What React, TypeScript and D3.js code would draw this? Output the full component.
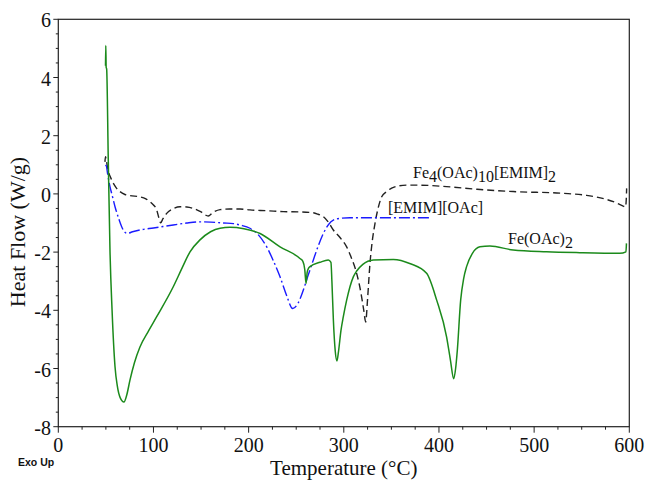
import React from "react";
import * as d3 from "d3";

const xTicks = [0, 100, 200, 300, 400, 500, 600];
const yTicks = [-8, -6, -4, -2, 0, 2, 4, 6];

const feOAc2: [number, number][] = [
  [49.6, 4.4], [49.9, 5.1], [50.3, 4.35], [50.8, 4.3], [52.5, 1.2], [54.3, -1.93], [56.5, -4.0], [59.6, -5.94],
  [62, -6.6], [65, -7.0], [69, -7.15], [72, -6.9], [75.3, -6.4], [80, -5.8], [85.8, -5.26], [95, -4.7],
  [103.4, -4.22], [120.8, -3.19], [130, -2.55], [138.4, -1.99], [148.9, -1.58], [160, -1.3], [170, -1.18],
  [180.4, -1.15], [195, -1.2], [212, -1.36], [233, -1.82], [253.9, -2.22], [257, -2.32], [259, -2.6],
  [260.3, -3.08], [261.5, -2.7], [263, -2.55], [264.5, -2.5], [275, -2.35], [283.7, -2.27], [286.5, -2.35],
  [287.5, -3.0], [289, -4.3], [291, -5.4], [292.8, -5.74], [294.5, -5.4], [297, -4.7], [299.5, -4.22],
  [303, -3.65], [310, -2.85], [313.5, -2.65], [320, -2.42], [331, -2.27], [352, -2.25], [370, -2.4],
  [387, -2.73], [397.6, -3.65], [408, -4.91], [412, -5.7], [415.5, -6.35], [417.5, -6.0], [419.3, -5.37],
  [422.8, -3.65], [426, -2.9], [429, -2.5], [435, -2.05], [443, -1.82], [453.6, -1.79], [478, -1.93],
  [513, -1.99], [548, -2.02], [590, -2.04], [596.5, -1.99], [597, -1.7],
];

const fe4Complex: [number, number][] = [
  [49, 1.1], [49.6, 1.28], [50.4, 1.18], [51.5, 0.95], [56.1, 0.48], [60, 0.25], [64.8, 0.08], [70, -0.02],
  [75.3, -0.06], [85.8, -0.1], [92, -0.17], [96.4, -0.27], [100, -0.38], [103.4, -0.55], [105.5, -0.8],
  [107.6, -0.99], [110, -0.85], [113.9, -0.67], [120, -0.52], [127.9, -0.44], [135, -0.45], [141.9, -0.5],
  [150, -0.62], [157.6, -0.76], [162, -0.65], [170, -0.54], [180, -0.52], [191, -0.52], [201.4, -0.55],
  [220, -0.58], [236.4, -0.61], [255, -0.62], [268, -0.65], [273, -0.7], [278.5, -0.78], [284, -0.98],
  [289, -1.24], [296, -1.5], [303, -1.82], [308, -2.2], [313.5, -2.73], [318, -3.4], [321, -4.0], [323, -4.4],
  [325, -3.6], [327.5, -2.39], [330, -1.6], [332.8, -1.01], [336, -0.5], [339.8, -0.1], [345, 0.08],
  [350.3, 0.2], [355.6, 0.26], [366, 0.3], [380, 0.3], [408, 0.25], [440, 0.16], [478, 0.08], [530.6, 0.02],
  [555, -0.05], [576, -0.19], [586, -0.3], [593.6, -0.42], [596, -0.45], [596.8, -0.2], [597.2, 0.19],
];

const emimOAc: [number, number][] = [
  [49.8, 0.95], [50.2, 0.99], [52, 0.65], [54.3, 0.25], [57, -0.1], [59.6, -0.44], [63, -0.8], [66.6, -1.13],
  [69.5, -1.3], [72.5, -1.36], [78, -1.3], [85.8, -1.24], [100, -1.17], [120.8, -1.07], [135, -1.0],
  [148.9, -0.96], [160, -0.97], [173.4, -1.0], [184, -1.02], [191, -1.07], [201.4, -1.18], [210, -1.4],
  [219, -1.82], [226, -2.3], [233, -2.85], [240, -3.5], [246.3, -3.94], [252, -3.75], [257.4, -3.31],
  [262, -2.85], [268, -2.27], [273, -1.8], [278.5, -1.36], [284, -1.05], [289, -0.9], [296, -0.84],
  [306.5, -0.82], [350, -0.82], [392.4, -0.82],
];

const W = 647;
const H = 481;
const L = 58.3, R = 629.3, T = 19.3, B = 426.7;
const SERIF = "Liberation Serif, Times New Roman, serif";
const SANS = "Liberation Sans, Arial, sans-serif";

export default function App() {
  const x = d3.scaleLinear().domain([0, 600]).range([L, R]);
  const y = d3.scaleLinear().domain([-8, 6]).range([B, T]);
  const line = d3
    .line<[number, number]>()
    .x((d) => x(d[0]))
    .y((d) => y(d[1]))
    .curve(d3.curveMonotoneX);

  const xMinor = d3.range(0, 601, 25);
  const yMinor = d3.range(-8, 6.01, 0.5);

  return (
    <svg
      width={W}
      height={H}
      style={{ position: "absolute", left: 0, top: 0, background: "#fff", fontFamily: SERIF }}
    >
      <rect x={0} y={0} width={W} height={H} fill="#fff" />
      <rect x={L} y={T} width={R - L} height={B - T} fill="none" stroke="#222" strokeWidth={1.2} />
      {xMinor.map((v) => (
        <line key={"xm" + v} x1={x(v)} x2={x(v)} y1={B} y2={B + (v % 100 === 0 ? 6 : 3)} stroke="#222" strokeWidth={1} />
      ))}
      {yMinor.map((v) => (
        <line key={"ym" + v} x1={L} x2={L - (Math.abs(v % 2) < 1e-6 ? 5 : 2.5)} y1={y(v)} y2={y(v)} stroke="#222" strokeWidth={1} />
      ))}
      {xTicks.map((v) => (
        <text key={"xt" + v} x={x(v)} y={452} textAnchor="middle" fontSize={20} fill="#111" style={{ fontFamily: SERIF }}>
          {v}
        </text>
      ))}
      {yTicks.map((v) => (
        <text key={"yt" + v} x={51} y={y(v) + 1} textAnchor="end" dominantBaseline="central" fontSize={20} fill="#111" style={{ fontFamily: SERIF }}>
          {v}
        </text>
      ))}
      <text x={(L + R) / 2} y={475} textAnchor="middle" fontSize={21} fill="#111" style={{ fontFamily: SERIF }}>
        Temperature (°C)
      </text>
      <text
        transform={`translate(25, 232) rotate(-90)`}
        textAnchor="middle"
        fontSize={22}
        fill="#111"
        style={{ fontFamily: SERIF }}
      >
        Heat Flow (W/g)
      </text>
      <text x={18} y={466} fontSize={10.5} fontWeight="bold" fill="#111" style={{ fontFamily: SANS }}>
        Exo Up
      </text>

      <path d={line(fe4Complex) || ""} fill="none" stroke="#222" strokeWidth={1.4} strokeDasharray="7,4" />
      <path d={line(emimOAc) || ""} fill="none" stroke="#1a1aff" strokeWidth={1.4} strokeDasharray="11,3,2,3" />
      <path d={line(feOAc2) || ""} fill="none" stroke="#1b8a1b" strokeWidth={1.5} />

      <text x={413} y={178} fontSize={16} fill="#111" style={{ fontFamily: SERIF }}>
        Fe<tspan dy={4}>4</tspan>
        <tspan dy={-4}>(OAc)</tspan>
        <tspan dy={4}>10</tspan>
        <tspan dy={-4}>[EMIM]</tspan>
        <tspan dy={4}>2</tspan>
      </text>
      <text x={388} y={213} fontSize={16} fill="#111" style={{ fontFamily: SERIF }}>
        [EMIM][OAc]
      </text>
      <text x={508} y={244} fontSize={16} fill="#111" style={{ fontFamily: SERIF }}>
        Fe(OAc)<tspan dy={4}>2</tspan>
      </text>
    </svg>
  );
}
